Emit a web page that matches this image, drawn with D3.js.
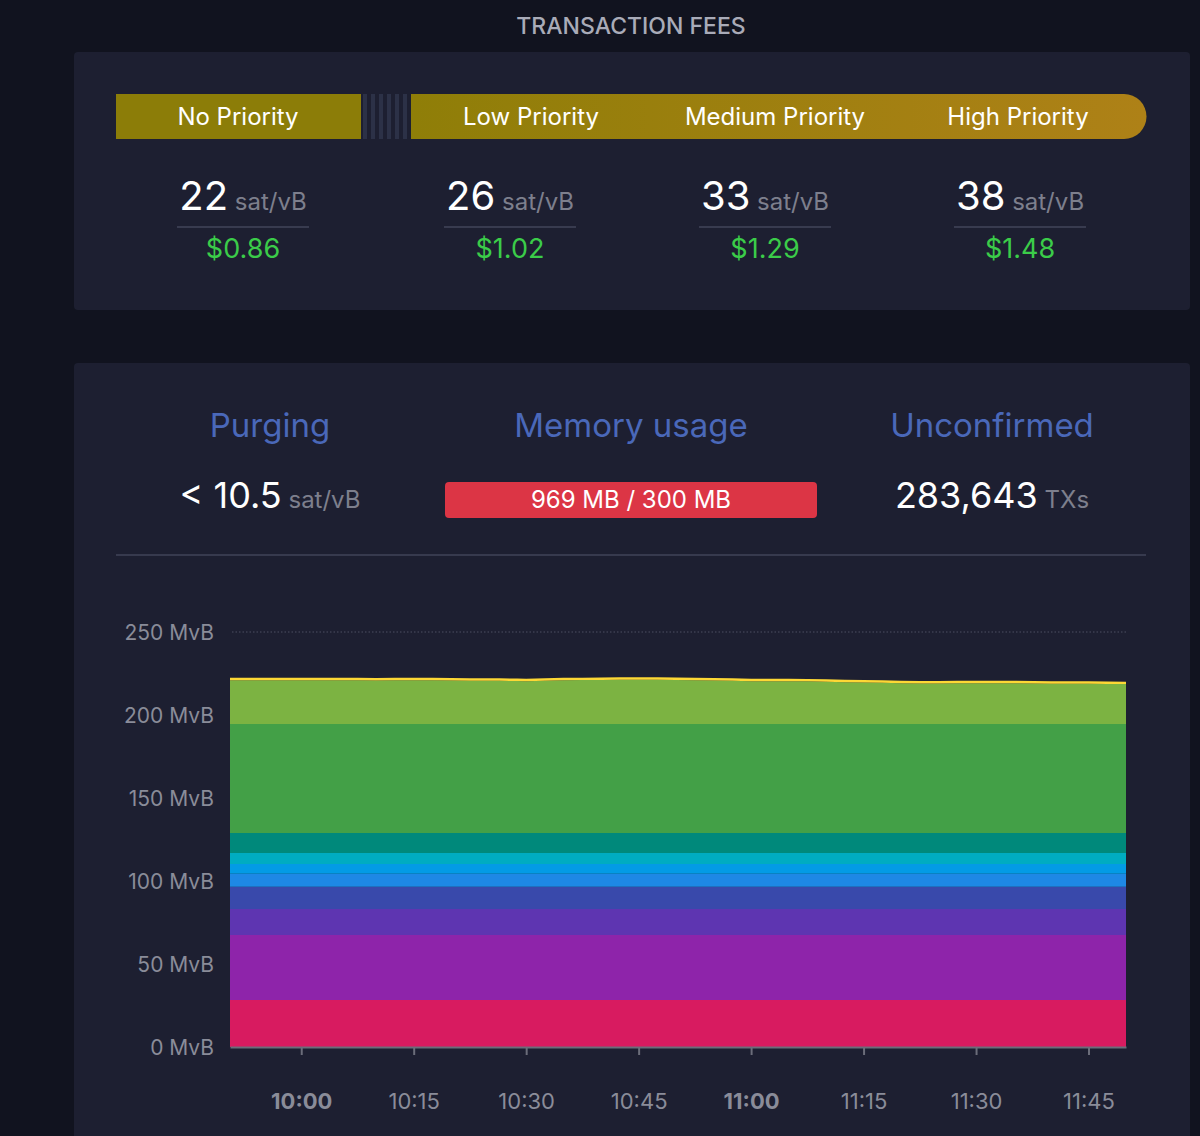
<!DOCTYPE html>
<html>
<head>
<meta charset="utf-8">
<script src="https://cdn.jsdelivr.net/npm/d3@7"></script>
<style>
  body { margin: 0; background: #11131f; font-family: "Inter", "Roboto", sans-serif; }
  svg { display: block; }
</style>
</head>
<body>
<svg id="chart" width="1200" height="1136"></svg>
<script>
// fee tiers
const tiers = ['No Priority', 'Low Priority', 'Medium Priority', 'High Priority'];
const feeRates = [22, 26, 33, 38];
const feeUsd = ['$0.86', '$1.02', '$1.29', '$1.48'];

// mempool stats
const purging = '10.5';
const memoryText = '969 MB / 300 MB';
const unconfirmed = '283,643';

// chart series (MvB), one per fee band, bottom to top
const times = ['09:50:30', '09:55', '10:00', '10:05', '10:10', '10:15', '10:20', '10:25', '10:30', '10:35',
  '10:40', '10:45', '10:50', '10:55', '11:00', '11:05', '11:10', '11:15', '11:20', '11:25',
  '11:30', '11:35', '11:40', '11:45', '11:50'];
const bandColors = ['#d81b60', '#8e24aa', '#5e35b1', '#3949ab', '#1e88e5', '#039be5', '#00acc1',
  '#00897b', '#43a047', '#7cb342', '#fdd835'];
const red = times.map(() => 28.3);
const purple = times.map(() => 39.2);
const deepPurple = times.map(() => 15.7);
const indigo = times.map(() => 13.3);
const blue = times.map(() => 7.8);
const lightBlue = times.map(() => 6.0);
const cyan = times.map(() => 6.6);
const teal = times.map(() => 12.0);
const green = times.map(() => 65.7);
const lightGreen = [26.4, 26.4, 26.3, 26.3, 26.2, 26.3, 26.2, 26.0, 25.8, 26.3,
  26.5, 26.6, 26.5, 26.2, 25.8, 25.7, 25.5, 25.0, 24.6, 24.4,
  24.5, 24.6, 24.3, 24.2, 24.0];
const yellow = times.map(() => 1.5);
const yTicks = [0, 50, 100, 150, 200, 250];

const svg = d3.select('#chart');
const panel = '#1d1f31';

svg.append('rect').attr('x', 0).attr('y', 0).attr('width', 1200).attr('height', 1136).attr('fill', '#11131f');
svg.append('text').attr('x', 631).attr('y', 34).attr('text-anchor', 'middle')
  .attr('fill', '#a9abb8').style('font-size', '23px').style('font-weight', 500)
  .text('TRANSACTION FEES');

// panels
svg.append('rect').attr('x', 74).attr('y', 52).attr('width', 1116).attr('height', 258).attr('rx', 4).attr('fill', panel);
svg.append('rect').attr('x', 74).attr('y', 363).attr('width', 1116).attr('height', 800).attr('rx', 4).attr('fill', panel);

// fee bar
const defs = svg.append('defs');
const grad = defs.append('linearGradient').attr('id', 'feeGrad');
grad.append('stop').attr('offset', '0%').attr('stop-color', '#8f7e08');
grad.append('stop').attr('offset', '100%').attr('stop-color', '#ae8117');
svg.append('rect').attr('x', 116).attr('y', 94).attr('width', 245).attr('height', 45).attr('fill', '#8c7d08');
d3.range(6).forEach(i => {
  svg.append('rect').attr('x', 363 + i * 8).attr('y', 94).attr('width', 4).attr('height', 45).attr('fill', '#2c3147');
});
svg.append('path')
  .attr('d', 'M411,94 H1124 A22.5,22.5 0 0 1 1124,139 H411 Z')
  .attr('fill', 'url(#feeGrad)');

const tierX = [238, 531, 775, 1018];
const valX = [243, 510, 765, 1020];
tiers.forEach((t, i) => {
  svg.append('text').attr('x', tierX[i]).attr('y', 125).attr('text-anchor', 'middle')
    .attr('fill', '#fff').style('font-size', '24px').text(t);
  const g = svg.append('text').attr('x', valX[i]).attr('y', 210).attr('text-anchor', 'middle');
  g.append('tspan').attr('fill', '#fff').style('font-size', '40px').text(feeRates[i]);
  g.append('tspan').attr('fill', '#7d7f8d').style('font-size', '24px').text(' sat/vB');
  svg.append('line').attr('x1', valX[i] - 66).attr('x2', valX[i] + 66).attr('y1', 227).attr('y2', 227)
    .attr('stroke', '#383b4f').attr('stroke-width', 2);
  svg.append('text').attr('x', valX[i]).attr('y', 258).attr('text-anchor', 'middle')
    .attr('fill', '#3bcc49').style('font-size', '27px').text(feeUsd[i]);
});

// stats
[['Purging', 270], ['Memory usage', 631], ['Unconfirmed', 992]].forEach(([t, x]) => {
  svg.append('text').attr('x', x).attr('y', 437).attr('text-anchor', 'middle')
    .attr('fill', '#4a68b9').style('font-size', '33px').text(t);
});
const p = svg.append('text').attr('x', 270).attr('y', 508).attr('text-anchor', 'middle');
p.append('tspan').attr('fill', '#fff').style('font-size', '36px').text('< ' + purging);
p.append('tspan').attr('fill', '#7d7f8d').style('font-size', '24px').text(' sat/vB');
svg.append('rect').attr('x', 445).attr('y', 482).attr('width', 372).attr('height', 36).attr('rx', 4).attr('fill', '#dc3545');
svg.append('text').attr('x', 631).attr('y', 508).attr('text-anchor', 'middle')
  .attr('fill', '#fff').style('font-size', '24px').text(memoryText);
const u = svg.append('text').attr('x', 992).attr('y', 508).attr('text-anchor', 'middle');
u.append('tspan').attr('fill', '#fff').style('font-size', '36px').text(unconfirmed);
u.append('tspan').attr('fill', '#7d7f8d').style('font-size', '24px').text(' TXs');
svg.append('line').attr('x1', 116).attr('x2', 1146).attr('y1', 555).attr('y2', 555)
  .attr('stroke', '#373a4e').attr('stroke-width', 2);

// chart
const parse = d3.timeParse('%H:%M:%S');
const dates = times.map(t => parse(t.length === 5 ? t + ':00' : t));
const series = [red, purple, deepPurple, indigo, blue, lightBlue, cyan, teal, green, lightGreen, yellow];
const rows = dates.map((d, i) => {
  const r = { date: d };
  series.forEach((s, k) => { r['b' + k] = s[i]; });
  return r;
});
const keys = series.map((s, k) => 'b' + k);
const stacked = d3.stack().keys(keys)(rows);

const x = d3.scaleTime().domain(d3.extent(dates)).range([230, 1126]);
const y = d3.scaleLinear().domain([0, 250]).range([1047, 632]);

yTicks.forEach(t => {
  svg.append('text').attr('x', 214).attr('y', y(t) + 8).attr('text-anchor', 'end')
    .attr('fill', '#8a8c99').style('font-size', '21px').text(t + ' MvB');
});
svg.append('line').attr('x1', 232).attr('x2', 1126).attr('y1', y(250)).attr('y2', y(250))
  .attr('stroke', '#4c4f62').attr('stroke-dasharray', '1.5,2');

const area = d3.area().x(d => x(d.data.date)).y0(d => y(d[0])).y1(d => y(d[1])).curve(d3.curveMonotoneX);
svg.append('g').selectAll('path').data(stacked).join('path')
  .attr('d', area).attr('fill', (d, i) => bandColors[i]);

// x axis
const xAxis = d3.axisBottom(x)
  .tickValues(['10:00', '10:15', '10:30', '10:45', '11:00', '11:15', '11:30', '11:45'].map(t => parse(t + ':00')))
  .tickFormat(d3.timeFormat('%H:%M')).tickSize(8).tickSizeOuter(0).tickPadding(38);
const ax = svg.append('g').attr('transform', `translate(0,${y(0)})`).call(xAxis);
ax.select('.domain').attr('stroke', '#6b6d7a').attr('stroke-width', 2);
ax.selectAll('.tick line').attr('stroke', '#6b6d7a').attr('stroke-width', 2);
ax.selectAll('.tick text').attr('fill', '#8a8c99').style('font-size', '22px')
  .style('font-family', '"Inter", "Roboto", sans-serif')
  .style('font-weight', d => d.getMinutes() === 0 ? 700 : 400);
</script>
</body>
</html>
